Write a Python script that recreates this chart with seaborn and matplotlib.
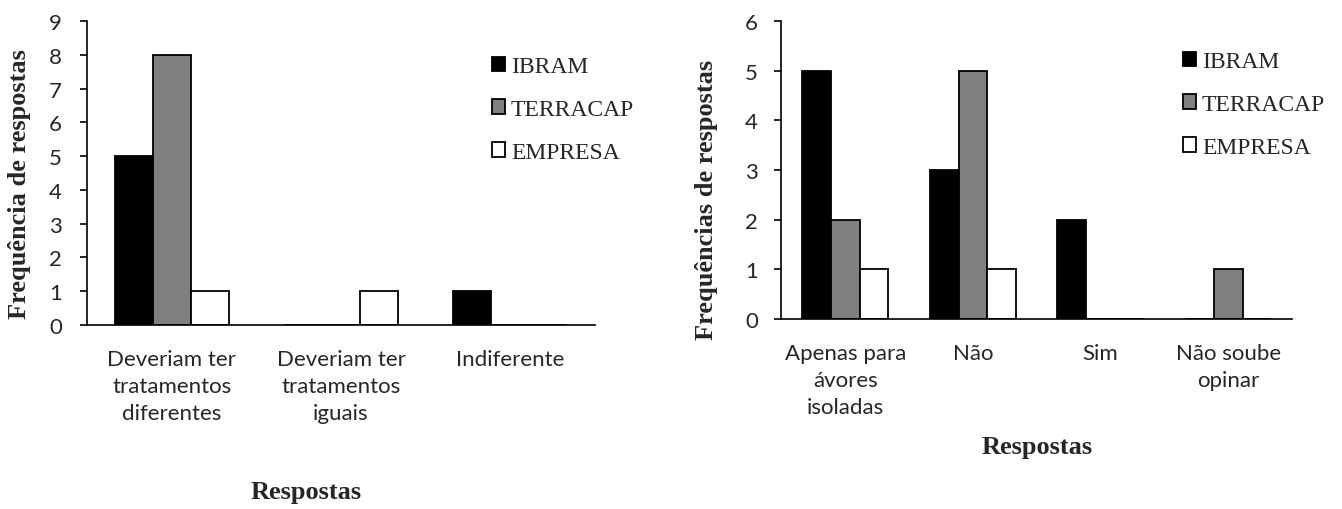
import matplotlib
matplotlib.use("Agg")
import matplotlib.pyplot as plt
from matplotlib.patches import Patch
import seaborn as sns
import pandas as pd

# Survey answers, chart 1
cats_a = ["Deveriam ter\ntratamentos\ndiferentes", "Deveriam ter\ntratamentos\niguais", "Indiferente"]
ibram_a = [5, 0, 1]
terracap_a = [8, 0, 0]
empresa_a = [1, 1, 0]

# Survey answers, chart 2
cats_b = ["Apenas para\návores\nisoladas", "Não", "Sim", "Não soube\nopinar"]
ibram_b = [5, 3, 2, 0]
terracap_b = [2, 5, 0, 1]
empresa_b = [1, 1, 0, 0]

groups = ["IBRAM", "TERRACAP", "EMPRESA"]
colors = {"IBRAM": "#000000", "TERRACAP": "#808080", "EMPRESA": "#ffffff"}

sns.set_theme(style="white")
plt.rcParams["font.family"] = ["Lato", "DejaVu Sans"]

SANS = "Lato"
SERIF = "Liberation Serif"


def long_frame(cats, ib, te, em):
    rows = []
    for g, vals in zip(groups, [ib, te, em]):
        for c, v in zip(cats, vals):
            rows.append({"Resposta": c, "Grupo": g, "Freq": v})
    return pd.DataFrame(rows)


fig = plt.figure(figsize=(13.42, 5.10), dpi=100)
W, H = 1342, 510


def make_axes(x0, x1, ytop, ybot):
    return fig.add_axes([x0 / W, 1 - ybot / H, (x1 - x0) / W, (ybot - ytop) / H])


ax1 = make_axes(87, 595, 22, 326)
ax2 = make_axes(781.5, 1292, 22, 320)


def draw(ax, cats, ib, te, em, ymax, ylabel, ypad, ylab_x, ylab_y, xlab_x, xlab_y):
    df = long_frame(cats, ib, te, em)
    sns.barplot(data=df, x="Resposta", y="Freq", hue="Grupo", order=cats,
                hue_order=groups, palette=colors, saturation=1, width=0.675,
                edgecolor="black", linewidth=1.3, legend=False, ax=ax, errorbar=None)
    ax.set_ylim(0, ymax)
    ax.set_yticks(range(0, ymax + 1))
    for s in ["top", "right"]:
        ax.spines[s].set_visible(False)
    for s in ["left", "bottom"]:
        ax.spines[s].set_color("black")
        ax.spines[s].set_linewidth(1.2)
    ax.tick_params(axis="y", which="both", left=True, length=5, width=1.2,
                   color="black", pad=ypad, labelsize=16)
    ax.tick_params(axis="x", bottom=False, pad=11, labelsize=16)
    for t in ax.get_xticklabels():
        t.set_fontfamily(SANS)
        t.set_linespacing(1.45)
        t.set_verticalalignment("top")
    for t in ax.get_yticklabels():
        t.set_fontfamily(SANS)
    ax.set_xlabel("")
    ax.set_ylabel("")
    fig.text(ylab_x / W, 1 - ylab_y / H, ylabel, rotation=90, ha="center", va="center",
             fontsize=19, fontweight="bold", family=SERIF)
    fig.text(xlab_x / W, 1 - xlab_y / H, "Respostas", ha="center", va="center",
             fontsize=19, fontweight="bold", family=SERIF)


draw(ax1, cats_a, ibram_a, terracap_a, empresa_a, 9, "Frequência de respostas",
     13, 20, 184, 306, 493)
draw(ax2, cats_b, ibram_b, terracap_b, empresa_b, 6, "Frequências de respostas",
     12, 706, 200, 1037, 448)

handles = [Patch(facecolor=colors[g], edgecolor="black", linewidth=1.3, label=g) for g in groups]


def add_legend(ax, x, y):
    ax.legend(handles=handles, loc="upper left", bbox_to_anchor=(x / W, 1 - y / H),
              bbox_transform=fig.transFigure, frameon=False,
              prop={"family": SERIF, "size": 17}, handlelength=0.55, handleheight=0.55,
              handletextpad=0.25, labelspacing=0.93, borderpad=0, borderaxespad=0)


add_legend(ax1, 492, 57)
add_legend(ax2, 1183, 52)

fig.savefig("out.png", dpi=100, facecolor="white")
